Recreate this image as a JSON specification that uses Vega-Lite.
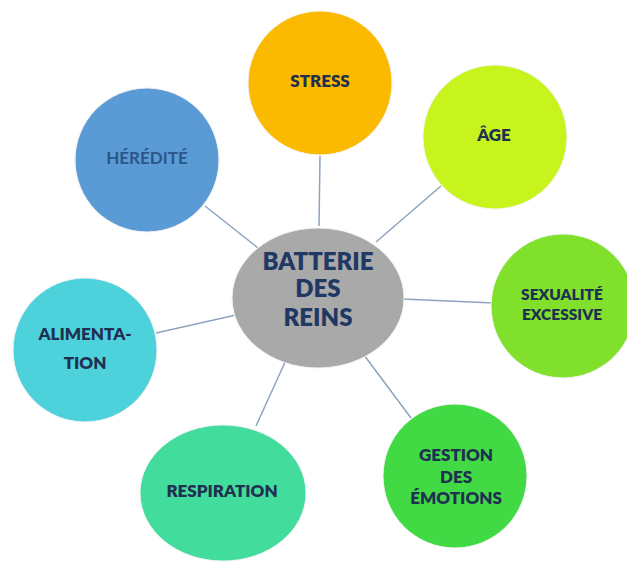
{
  "$schema": "https://vega.github.io/schema/vega-lite/v6.json",
  "width": 627,
  "height": 563,
  "autosize": {"type": "none"},
  "padding": 0,
  "background": "white",
  "config": {"view": {"stroke": null}},
  "datasets": {
    "links": [
      {"name": "STRESS", "x1": 320, "y1": 156, "x2": 319, "y2": 226},
      {"name": "ÂGE", "x1": 441, "y1": 186, "x2": 376, "y2": 242},
      {"name": "SEXUALITÉ EXCESSIVE", "x1": 494, "y1": 303, "x2": 402, "y2": 299},
      {"name": "GESTION DES ÉMOTIONS", "x1": 411, "y1": 418, "x2": 364, "y2": 355},
      {"name": "RESPIRATION", "x1": 256, "y1": 426, "x2": 286, "y2": 360},
      {"name": "ALIMENTATION", "x1": 156, "y1": 333, "x2": 236, "y2": 315},
      {"name": "HÉRÉDITÉ", "x1": 205, "y1": 206, "x2": 258, "y2": 248}
    ],
    "nodes": [
      {"name": "STRESS", "x": 320, "y": 83, "form": "circle"},
      {"name": "ÂGE", "x": 495, "y": 137, "form": "circle"},
      {"name": "SEXUALITÉ EXCESSIVE", "x": 563, "y": 306, "form": "circle"},
      {"name": "GESTION DES ÉMOTIONS", "x": 455, "y": 476, "form": "circle"},
      {"name": "RESPIRATION", "x": 223, "y": 493, "form": "wide"},
      {"name": "ALIMENTATION", "x": 85, "y": 350, "form": "circle"},
      {"name": "HÉRÉDITÉ", "x": 147, "y": 160, "form": "circle"},
      {"name": "BATTERIE DES REINS", "x": 318, "y": 298, "form": "center"}
    ],
    "labels": [
      {"name": "BATTERIE DES REINS", "line": "BATTERIE", "x": 318, "y": 263},
      {"name": "BATTERIE DES REINS", "line": "DES", "x": 318, "y": 290},
      {"name": "BATTERIE DES REINS", "line": "REINS", "x": 318, "y": 319},
      {"name": "STRESS", "line": "STRESS", "x": 320, "y": 82},
      {"name": "ÂGE", "line": "ÂGE", "x": 494, "y": 136},
      {"name": "SEXUALITÉ EXCESSIVE", "line": "SEXUALITÉ", "x": 562, "y": 295},
      {"name": "SEXUALITÉ EXCESSIVE", "line": "EXCESSIVE", "x": 562, "y": 315},
      {"name": "GESTION DES ÉMOTIONS", "line": "GESTION", "x": 456, "y": 456},
      {"name": "GESTION DES ÉMOTIONS", "line": "DES", "x": 456, "y": 478},
      {"name": "GESTION DES ÉMOTIONS", "line": "ÉMOTIONS", "x": 456, "y": 499},
      {"name": "RESPIRATION", "line": "RESPIRATION", "x": 222, "y": 492},
      {"name": "ALIMENTATION", "line": "ALIMENTA-", "x": 85, "y": 335},
      {"name": "ALIMENTATION", "line": "TION", "x": 85, "y": 364},
      {"name": "HÉRÉDITÉ", "line": "HÉRÉDITÉ", "x": 147, "y": 159}
    ]
  },
  "layer": [
    {
      "data": {"name": "links"},
      "mark": {"type": "rule", "color": "#8ea3bf", "strokeWidth": 1.5},
      "encoding": {
        "x": {"field": "x1", "type": "quantitative", "scale": {"domain": [0, 627], "nice": false, "zero": false}, "axis": null},
        "y": {"field": "y1", "type": "quantitative", "scale": {"domain": [0, 563], "nice": false, "zero": false, "reverse": true}, "axis": null},
        "x2": {"field": "x2"},
        "y2": {"field": "y2"}
      }
    },
    {
      "data": {"name": "nodes"},
      "transform": [{"filter": "datum.form === 'circle'"}],
      "mark": {"type": "point", "shape": "circle", "filled": true, "opacity": 1, "size": 20736, "stroke": "#f4f4f4", "strokeWidth": 1},
      "encoding": {
        "x": {"field": "x", "type": "quantitative"},
        "y": {"field": "y", "type": "quantitative"},
        "color": {
          "field": "name", "type": "nominal", "legend": null,
          "scale": {
            "domain": ["STRESS", "ÂGE", "SEXUALITÉ EXCESSIVE", "GESTION DES ÉMOTIONS", "RESPIRATION", "ALIMENTATION", "HÉRÉDITÉ", "BATTERIE DES REINS"],
            "range": ["#fbb900", "#c8f41e", "#80e02b", "#41d944", "#42dc9c", "#4dd2db", "#5b9bd5", "#a9a9a9"]
          }
        }
      }
    },
    {
      "data": {"name": "nodes"},
      "transform": [{"filter": "datum.form === 'wide'"}],
      "mark": {"type": "point", "shape": "M -1 0 A 1 0.82 0 1 1 1 0 A 1 0.82 0 1 1 -1 0 Z", "filled": true, "opacity": 1, "size": 27556, "stroke": "#f4f4f4", "strokeWidth": 1},
      "encoding": {
        "x": {"field": "x", "type": "quantitative"},
        "y": {"field": "y", "type": "quantitative"},
        "color": {"field": "name", "type": "nominal", "legend": null}
      }
    },
    {
      "data": {"name": "nodes"},
      "transform": [{"filter": "datum.form === 'center'"}],
      "mark": {"type": "point", "shape": "M -1 0 A 1 0.814 0 1 1 1 0 A 1 0.814 0 1 1 -1 0 Z", "filled": true, "opacity": 1, "size": 29584, "stroke": "#f4f4f4", "strokeWidth": 1},
      "encoding": {
        "x": {"field": "x", "type": "quantitative"},
        "y": {"field": "y", "type": "quantitative"},
        "color": {"field": "name", "type": "nominal", "legend": null}
      }
    },
    {
      "data": {"name": "labels"},
      "transform": [{"filter": "datum.name === 'BATTERIE DES REINS'"}],
      "mark": {"type": "text", "font": "Lato", "fontWeight": 800, "fontSize": 24, "align": "center", "baseline": "middle", "color": "#1f3864"},
      "encoding": {
        "x": {"field": "x", "type": "quantitative"},
        "y": {"field": "y", "type": "quantitative"},
        "text": {"field": "line"}
      }
    },
    {
      "data": {"name": "labels"},
      "transform": [{"filter": "datum.name !== 'BATTERIE DES REINS' && datum.name !== 'HÉRÉDITÉ' && datum.name !== 'SEXUALITÉ EXCESSIVE'"}],
      "mark": {"type": "text", "font": "Lato", "fontWeight": 800, "fontSize": 17, "align": "center", "baseline": "middle", "color": "#1f3050"},
      "encoding": {
        "x": {"field": "x", "type": "quantitative"},
        "y": {"field": "y", "type": "quantitative"},
        "text": {"field": "line"}
      }
    },
    {
      "data": {"name": "labels"},
      "transform": [{"filter": "datum.name === 'SEXUALITÉ EXCESSIVE'"}],
      "mark": {"type": "text", "font": "Lato", "fontWeight": 800, "fontSize": 15.5, "align": "center", "baseline": "middle", "color": "#1f3050"},
      "encoding": {
        "x": {"field": "x", "type": "quantitative"},
        "y": {"field": "y", "type": "quantitative"},
        "text": {"field": "line"}
      }
    },
    {
      "data": {"name": "labels"},
      "transform": [{"filter": "datum.name === 'HÉRÉDITÉ'"}],
      "mark": {"type": "text", "font": "Lato", "fontWeight": "bold", "fontSize": 17, "align": "center", "baseline": "middle", "color": "#2b5688"},
      "encoding": {
        "x": {"field": "x", "type": "quantitative"},
        "y": {"field": "y", "type": "quantitative"},
        "text": {"field": "line"}
      }
    }
  ]
}
